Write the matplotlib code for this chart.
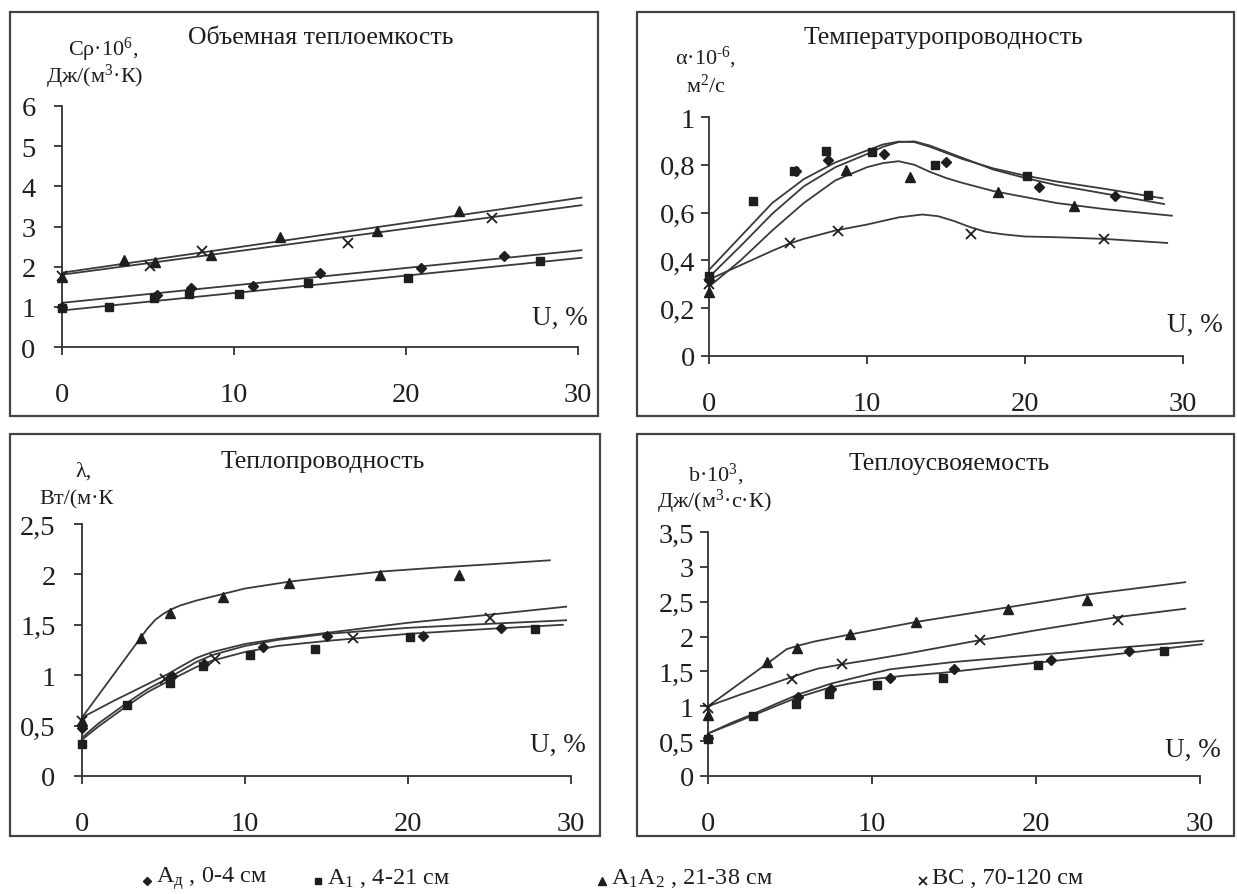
import numpy as np
import matplotlib
matplotlib.use("Agg")
import matplotlib.pyplot as plt
from matplotlib.patches import Rectangle
from matplotlib.lines import Line2D
from matplotlib.ticker import FuncFormatter

plt.rcParams['font.family'] = ['Liberation Serif', 'DejaVu Serif']
plt.rcParams['mathtext.default'] = 'regular'

# ---------------------------------------------------------------- data ----#
# humidity U, % of the measured points for every horizon
u_ad = [0, 5.5, 7.5, 11.1, 15.0, 20.9, 25.7]
u_a1 = [0, 2.76, 5.37, 7.4, 10.3, 14.3, 20.1, 27.8]
u_a1a2 = [0, 3.6, 5.4, 8.66, 12.7, 18.3, 23.1]
u_bc = [0, 5.1, 8.15, 16.6, 25.0]

# volumetric heat capacity
cp_ad = [1.0, 1.30, 1.47, 1.52, 1.83, 1.97, 2.26]
cp_a1 = [0.97, 1.0, 1.22, 1.32, 1.33, 1.59, 1.72, 2.14]
cp_a1a2 = [1.74, 2.17, 2.12, 2.30, 2.74, 2.90, 3.38]
cp_bc = [1.78, 2.01, 2.39, 2.59, 3.20]
cp_fit_u = [0, 30.2]
cp_fit_ad = [1.10, 2.41]
cp_fit_a1 = [0.91, 2.22]
cp_fit_a1a2 = [1.85, 3.72]
cp_fit_bc = [1.80, 3.53]

# thermal diffusivity
al_ad = [0.32, 0.772, 0.822, 0.845, 0.811, 0.706, 0.671]
al_a1 = [0.336, 0.649, 0.776, 0.857, 0.853, 0.80, 0.754, 0.674]
al_a1a2 = [0.266, np.nan, np.nan, 0.779, 0.751, 0.688, 0.629]
al_bc = [0.30, 0.471, 0.524, 0.509, 0.49]
al_fit_ad_u = [0, 2, 4, 6, 8, 10, 11, 12, 13, 14, 15, 16, 18, 20, 22, 25, 28.8]
al_fit_ad = [0.33, 0.46, 0.595, 0.71, 0.79, 0.845, 0.875, 0.895, 0.898, 0.88,
             0.855, 0.83, 0.78, 0.745, 0.715, 0.68, 0.636]
al_fit_a1_u = [0, 2, 4, 6, 8, 10, 11, 12, 13, 14, 15, 16, 18, 20, 22, 25, 28.7]
al_fit_a1 = [0.36, 0.50, 0.64, 0.74, 0.81, 0.86, 0.885, 0.897, 0.895, 0.875,
             0.85, 0.825, 0.785, 0.755, 0.73, 0.70, 0.66]
al_fit_a1a2_u = [0, 2, 4, 6, 8, 10, 11, 12, 13, 14, 15, 16, 18, 20, 22, 25, 29.3]
al_fit_a1a2 = [0.29, 0.40, 0.525, 0.64, 0.735, 0.79, 0.807, 0.815, 0.80, 0.77,
               0.745, 0.725, 0.69, 0.665, 0.64, 0.615, 0.587]
al_fit_bc_u = [0, 2, 4, 5.07, 6, 8, 10, 12, 13.5, 14.5, 15.5, 16.5, 17.5, 18.5,
               20, 22, 25, 29]
al_fit_bc = [0.32, 0.38, 0.44, 0.47, 0.49, 0.525, 0.55, 0.58, 0.592, 0.585,
             0.565, 0.54, 0.52, 0.51, 0.50, 0.497, 0.49, 0.473]

# thermal conductivity
la_ad = [0.48, 0.99, 1.116, 1.28, 1.384, 1.384, 1.467]
la_a1 = [0.32, 0.70, 0.92, 1.09, 1.20, 1.26, 1.38, 1.46]
la_a1a2 = [0.55, 1.374, 1.62, 1.78, 1.91, 1.99, 1.99]
la_bc = [0.546, 0.96, 1.159, 1.374, 1.563]
la_fit_ad_u = [0, 1, 2.8, 4, 5.5, 7, 8, 10, 12, 15, 20, 25, 29.7]
la_fit_ad = [0.38, 0.52, 0.73, 0.86, 0.99, 1.13, 1.20, 1.29, 1.35, 1.41, 1.47,
             1.51, 1.545]
la_fit_a1_u = [0, 1, 2.8, 4, 5.4, 7, 8, 10, 12, 15, 20, 25, 29.5]
la_fit_a1 = [0.36, 0.49, 0.70, 0.83, 0.95, 1.08, 1.145, 1.23, 1.29, 1.34, 1.41,
             1.46, 1.50]
la_fit_a1a2_u = [0, 1, 2, 3, 4, 4.5, 5, 5.5, 6, 7, 8, 10, 12.8, 15, 18.5, 22,
                 25, 28.7]
la_fit_a1a2 = [0.58, 0.80, 1.02, 1.24, 1.46, 1.55, 1.61, 1.655, 1.69, 1.74,
               1.78, 1.86, 1.93, 1.97, 2.03, 2.07, 2.10, 2.14]
la_fit_bc_u = [0, 2, 4, 5.25, 6, 7, 8, 10, 12, 15, 20, 25, 29.7]
la_fit_bc = [0.58, 0.75, 0.91, 1.01, 1.08, 1.17, 1.23, 1.31, 1.36, 1.42, 1.52,
             1.60, 1.68]

# thermal effusivity
b_ad = [0.55, 1.133, 1.253, 1.41, 1.54, 1.66, 1.79]
b_a1 = [0.535, 0.856, 1.038, 1.18, 1.30, 1.41, 1.59, 1.79]
b_a1a2 = [0.88, 1.636, 1.836, 2.03, 2.21, 2.40, 2.53]
b_bc = [0.97, 1.387, 1.60, 1.946, 2.243]
b_fit_ad_u = [0, 1.5, 2.76, 4, 5.5, 7.5, 10, 11.1, 12, 15, 20, 25, 30.2]
b_fit_ad = [0.61, 0.77, 0.89, 1.02, 1.17, 1.325, 1.47, 1.53, 1.555, 1.636,
            1.735, 1.84, 1.94]
b_fit_a1_u = [0, 1.5, 2.76, 4, 5.37, 7.3, 8.5, 10.3, 12, 14.3, 17, 20.1, 25, 30.1]
b_fit_a1 = [0.61, 0.75, 0.87, 0.99, 1.12, 1.26, 1.32, 1.396, 1.44, 1.48, 1.55,
            1.626, 1.75, 1.89]
b_fit_a1a2_u = [0, 1, 2, 3, 4, 4.8, 5.5, 6.5, 8.66, 12.7, 18.3, 23, 29.1]
b_fit_a1a2 = [1.0, 1.17, 1.34, 1.51, 1.68, 1.82, 1.87, 1.93, 2.03, 2.21, 2.42,
              2.60, 2.78]
b_fit_bc_u = [0, 2, 4, 5.12, 6, 6.7, 8.12, 10, 12, 16.6, 20, 25, 29.1]
b_fit_bc = [1.0, 1.17, 1.33, 1.42, 1.49, 1.54, 1.60, 1.67, 1.75, 1.95, 2.09,
            2.28, 2.40]

legend_labels = ['A$_{д}$ , 0-4 см', 'A$_{1}$ , 4-21 см',
                 'A$_{1}$A$_{2}$ , 21-38 см', 'ВС , 70-120 см']

# ---------------------------------------------------------------- figure --#
W, H = 1237, 895
fig = plt.figure(figsize=(W / 100, H / 100), dpi=100)
fig.patch.set_facecolor('white')

INK = '#1e1e1e'
LINE = '#3a3a3a'
styles = {
    'ad': dict(marker='D', ms=5.5),
    'a1': dict(marker='s', ms=6.0),
    'a1a2': dict(marker='^', ms=7.0),
    'bc': dict(marker='x', ms=6.5, mew=1.3),
}


def fx(px):
    return px / W


def fy(py):
    return 1 - py / H


# panel frames (pixel boxes: left, top, right, bottom)
for l, t, r, b in [(10, 13, 598, 417), (637, 13, 1234, 417),
                   (10, 435, 600, 837), (637, 435, 1234, 837)]:
    fig.add_artist(Rectangle((fx(l), fy(b)), fx(r - l), (b - t) / H,
                             transform=fig.transFigure, fill=False,
                             edgecolor='#444444', lw=1.6))

comma = FuncFormatter(lambda v, p: ('%g' % v).replace('.', ','))


def make_axes(rect_px, ymax, ystep, ypad):
    x0, x30, y0, ytop = rect_px
    ax = fig.add_axes([fx(x0), fy(y0), fx(x30 - x0), (y0 - ytop) / H])
    ax.set_xlim(0, 30)
    ax.set_ylim(0, ymax)
    ax.set_xticks([0, 10, 20, 30])
    ax.set_yticks(np.arange(0, ymax + 1e-9, ystep))
    ax.yaxis.set_major_formatter(comma)
    for s in ['top', 'right']:
        ax.spines[s].set_visible(False)
    for s in ['left', 'bottom']:
        ax.spines[s].set_color('#333333')
        ax.spines[s].set_linewidth(1.3)
    ax.tick_params(axis='x', direction='out', length=6, width=1.3,
                   labelsize=20.5, pad=19, colors='#333333', labelcolor=INK)
    ax.tick_params(axis='y', direction='out', length=6, width=1.3,
                   labelsize=20.5, pad=ypad, colors='#333333', labelcolor=INK)
    ax.patch.set_alpha(0)
    return ax


def draw(ax, pts, fits):
    for key, (ux, uy) in fits.items():
        ax.plot(ux, uy, color=LINE, lw=1.3, clip_on=False, zorder=2)
    for key, (ux, uy) in pts.items():
        ax.plot(ux, uy, ls='none', color=INK, mec=INK, clip_on=False,
                zorder=3, **styles[key])


# top-left: volumetric heat capacity
ax1 = make_axes((62, 578, 348, 107), 6, 1, 13)
draw(ax1,
     {'ad': (u_ad, cp_ad), 'a1': (u_a1, cp_a1), 'a1a2': (u_a1a2, cp_a1a2),
      'bc': (u_bc, cp_bc)},
     {'ad': (cp_fit_u, cp_fit_ad), 'a1': (cp_fit_u, cp_fit_a1),
      'a1a2': (cp_fit_u, cp_fit_a1a2), 'bc': (cp_fit_u, cp_fit_bc)})

# top-right: thermal diffusivity
ax2 = make_axes((709, 1183, 357, 118), 1, 0.2, 4)
draw(ax2,
     {'ad': (u_ad, al_ad), 'a1': (u_a1, al_a1), 'a1a2': (u_a1a2, al_a1a2),
      'bc': (u_bc, al_bc)},
     {'ad': (al_fit_ad_u, al_fit_ad), 'a1': (al_fit_a1_u, al_fit_a1),
      'a1a2': (al_fit_a1a2_u, al_fit_a1a2), 'bc': (al_fit_bc_u, al_fit_bc)})

# bottom-left: thermal conductivity
ax3 = make_axes((82, 571, 777, 525), 2.5, 0.5, 13)
draw(ax3,
     {'ad': (u_ad, la_ad), 'a1': (u_a1, la_a1), 'a1a2': (u_a1a2, la_a1a2),
      'bc': (u_bc, la_bc)},
     {'ad': (la_fit_ad_u, la_fit_ad), 'a1': (la_fit_a1_u, la_fit_a1),
      'a1a2': (la_fit_a1a2_u, la_fit_a1a2), 'bc': (la_fit_bc_u, la_fit_bc)})

# bottom-right: thermal effusivity
ax4 = make_axes((708, 1200, 777, 533), 3.5, 0.5, 4)
draw(ax4,
     {'ad': (u_ad, b_ad), 'a1': (u_a1, b_a1), 'a1a2': (u_a1a2, b_a1a2),
      'bc': (u_bc, b_bc)},
     {'ad': (b_fit_ad_u, b_fit_ad), 'a1': (b_fit_a1_u, b_fit_a1),
      'a1a2': (b_fit_a1a2_u, b_fit_a1a2), 'bc': (b_fit_bc_u, b_fit_bc)})

# ---------------------------------------------------------------- texts ---#
title_kw = dict(fontsize=18.5, color=INK, ha='center', va='center')
fig.text(fx(321), fy(38), 'Объемная теплоемкость', **title_kw)
fig.text(fx(943), fy(38), 'Температуропроводность', **title_kw)
fig.text(fx(323), fy(462), 'Теплопроводность', **title_kw)
fig.text(fx(949), fy(464), 'Теплоусвояемость', **title_kw)

lab_kw = dict(fontsize=16, color=INK, ha='center', va='center')
fig.text(fx(103), fy(50), 'Cρ·10$^{6}$,', **lab_kw)
fig.text(fx(95), fy(77), 'Дж/(м$^{3}$·К)', **lab_kw)
fig.text(fx(706), fy(58), 'α·10$^{\u20106}$,', **lab_kw)
fig.text(fx(706), fy(86), 'м$^{2}$/с', **lab_kw)
fig.text(fx(84), fy(472), 'λ,', **lab_kw)
fig.text(fx(77), fy(500), 'Вт/(м·К', **lab_kw)
fig.text(fx(716), fy(475), 'b·10$^{3}$,', **lab_kw)
fig.text(fx(714), fy(502), 'Дж/(м$^{3}$·с·К)', **lab_kw)

u_kw = dict(fontsize=19.5, color=INK, ha='center', va='center')
fig.text(fx(560), fy(318), 'U, %', **u_kw)
fig.text(fx(1195), fy(325), 'U, %', **u_kw)
fig.text(fx(558), fy(745), 'U, %', **u_kw)
fig.text(fx(1193), fy(750), 'U, %', **u_kw)

# legend row at the bottom
leg_x = [147, 318, 602, 923]
for key, lx, text in zip(['ad', 'a1', 'a1a2', 'bc'], leg_x, legend_labels):
    st = dict(styles[key])
    st['ms'] = st['ms'] * 0.8
    fig.add_artist(Line2D([fx(lx)], [fy(882)], transform=fig.transFigure,
                          ls='none', color=INK, mec=INK, **st))
    fig.text(fx(lx + 9), fy(879), text, fontsize=17.5, color=INK,
             ha='left', va='center')

fig.savefig('out.png', dpi=100)
